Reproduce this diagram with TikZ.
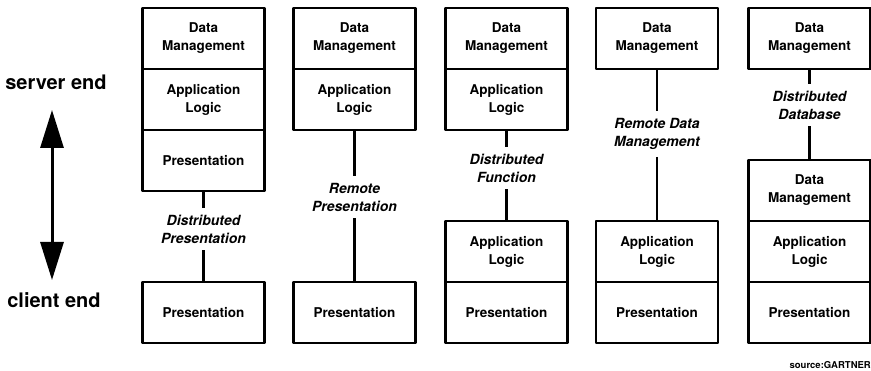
\documentclass[tikz,border=0pt]{standalone}
\usepackage{fontspec}
\setmainfont{TeX Gyre Heros}
\usetikzlibrary{positioning,arrows.meta}
\tikzset{
  tier/.style={draw,line width=2.8pt,outer sep=0pt,inner sep=0pt,
    minimum width=122pt,minimum height=61pt,align=center,
    font=\bfseries\fontsize{13.5}{18}\selectfont},
  split/.style={align=center,inner xsep=2pt,inner ysep=7pt,
    font=\bfseries\itshape\fontsize{14}{18}\selectfont},
  link/.style={line width=2.8pt},
  endlabel/.style={font=\bfseries\fontsize{20}{22}\selectfont},
  updown/.style={line width=3pt,
    {Triangle[width=23pt,length=38pt]}-{Triangle[width=23pt,length=38pt]}},
  credit/.style={font=\bfseries\fontsize{9.5}{10}\selectfont,inner sep=0pt}
}
\begin{document}
\begin{tikzpicture}[x=1pt,y=-1pt,line join=round]
\useasboundingbox (0,0) rectangle (871,371);
% client side
\foreach \i/\x in {1/203.5,2/354.5,3/506.5,4/657,5/809.5}
  \node[tier] (cp\i) at (\x,312.5) {Presentation};
% distributed presentation
\node[tier] (dm1) at (203.5,38.5) {Data\\Management};
\node[tier,below=0pt of dm1] (al1) {Application\\Logic};
\node[tier,below=0pt of al1] (sp1) {Presentation};
\node[split] (s1) at (203.5,229) {Distributed\\Presentation};
\draw[link] (sp1) -- (s1) -- (cp1);
% remote presentation
\node[tier] (dm2) at (354.5,38.5) {Data\\Management};
\node[tier,below=0pt of dm2] (al2) {Application\\Logic};
\node[split] (s2) at (354.5,197) {Remote\\Presentation};
\draw[link] (al2) -- (s2) -- (cp2);
% distributed function
\node[tier] (dm3) at (506.5,38.5) {Data\\Management};
\node[tier,below=0pt of dm3] (al3) {Application\\Logic};
\node[tier,above=0pt of cp3] (cal3) {Application\\Logic};
\node[split] (s3) at (506.5,168) {Distributed\\Function};
\draw[link] (al3) -- (s3) -- (cal3);
% remote data management
\node[tier] (dm4) at (657,38.5) {Data\\Management};
\node[tier,above=0pt of cp4] (cal4) {Application\\Logic};
\node[split] (s4) at (657,134) {Remote Data\\Management};
\draw[link] (dm4) -- (s4) -- (cal4);
% distributed database
\node[tier] (dm5) at (809.5,38.5) {Data\\Management};
\node[tier,above=0pt of cp5] (cal5) {Application\\Logic};
\node[tier,above=0pt of cal5] (cdm5) {Data\\Management};
\node[split] (s5) at (809.5,105) {Distributed\\Database};
\draw[link] (dm5) -- (s5) -- (cdm5);
% server / client axis
\node[endlabel] (server) at (56,82) {server end};
\node[endlabel] (client) at (54,300) {client end};
\path (52,110) coordinate (up) (52,280) coordinate (down);
\draw[updown] (up) -- (down);
\node[credit,anchor=east] (src) at (871,365) {source:GARTNER};
\end{tikzpicture}
\end{document}
